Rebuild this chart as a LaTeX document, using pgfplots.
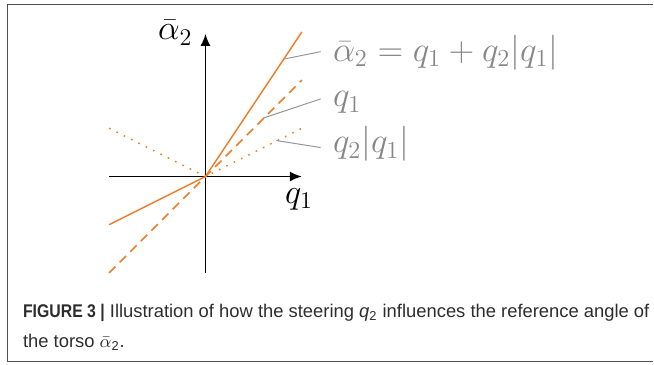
\documentclass[border=0pt]{standalone}
\usepackage{fontspec}
\usepackage{pgfplots}
\pgfplotsset{compat=1.18}
\usetikzlibrary{arrows.meta}

\newfontfamily\capfont[BoldFeatures={FakeStretch=0.86}]{Liberation Sans}
\definecolor{lineorange}{RGB}{238,125,40}
\definecolor{leadgray}{RGB}{150,150,150}
\definecolor{labgray}{RGB}{135,135,135}
\definecolor{framegray}{RGB}{80,80,80}
\definecolor{captext}{RGB}{45,45,45}

\begin{document}
\begin{tikzpicture}
  % frame, labels and caption are placed in pixel units of the reference
  \begin{scope}[x=0.5pt, y=-0.5pt]
    \path (0,0) rectangle (654,365);
    \draw[framegray, line width=0.7pt] (654,4.5) -- (7.5,4.5) -- (7.5,362) -- (654,362);
  \end{scope}

  \begin{axis}[
      at={(102.85pt,-88.35pt)}, anchor=origin,
      x=48.25pt, y=48.25pt,
      xmin=-1, xmax=1, ymin=-1, ymax=1.48,
      enlargelimits=false,
      axis lines=middle,
      ticks=none,
      axis line style={black, line width=0.8pt, -{Latex[length=6pt,width=5pt]}},
      clip=false,
    ]
    % alpha_2 = q1 + q2|q1| with q2 = 0.5
    \addplot[lineorange, line width=0.75pt] coordinates {(-1,-0.5) (0,0) (1,1.5)};
    % q1
    \addplot[lineorange, line width=0.75pt, dash pattern=on 4.5pt off 3pt] coordinates {(-1,-1) (0,0) (1,1)};
    % q2|q1|
    \addplot[lineorange, line width=0.75pt, dash pattern=on 0.8pt off 3.3pt] coordinates {(-1,0.5) (0,0) (1,0.5)};
  \end{axis}

  \begin{scope}[x=0.5pt, y=-0.5pt]
    % axis labels
    \node[anchor=base west, inner sep=0, font=\fontsize{17.28}{20}\selectfont] at (158,40) {$\bar{\alpha}_2$};
    \node[anchor=base west, inner sep=0, font=\fontsize{17.28}{20}\selectfont] at (285,204) {$q_1$};
    % leaders
    \draw[leadgray, line width=0.5pt] (285,59) -- (321,51.7);
    \draw[leadgray, line width=0.5pt] (263.3,118.3) -- (321,99);
    \draw[leadgray, line width=0.5pt] (276.7,140.7) -- (321,147.7);
    \begin{scope}[every node/.style={anchor=base west, inner sep=0, text=labgray, scale=1.02, font=\fontsize{17.28}{20}\selectfont}]
      \node at (333,61.5) {$\bar{\alpha}_2 = q_1 + q_2|q_1|$};
      \node at (333,107) {$q_1$};
      \node at (333,153) {$q_2|q_1|$};
    \end{scope}
    % caption
    \node[anchor=base west, inner sep=0, text=captext, font=\capfont\fontsize{9.2}{11}\selectfont] at (22.7,318.3)
      {{\bfseries FIGURE 3 |} Illustration of how the steering \textit{q}\textsubscript{2} influences the reference angle of};
    \node[anchor=base west, inner sep=0, text=captext, font=\capfont\fontsize{9.2}{11}\selectfont] at (22.7,347.7)
      {the torso $\bar{\alpha}$\textsubscript{2}.};
  \end{scope}
\end{tikzpicture}
\end{document}
